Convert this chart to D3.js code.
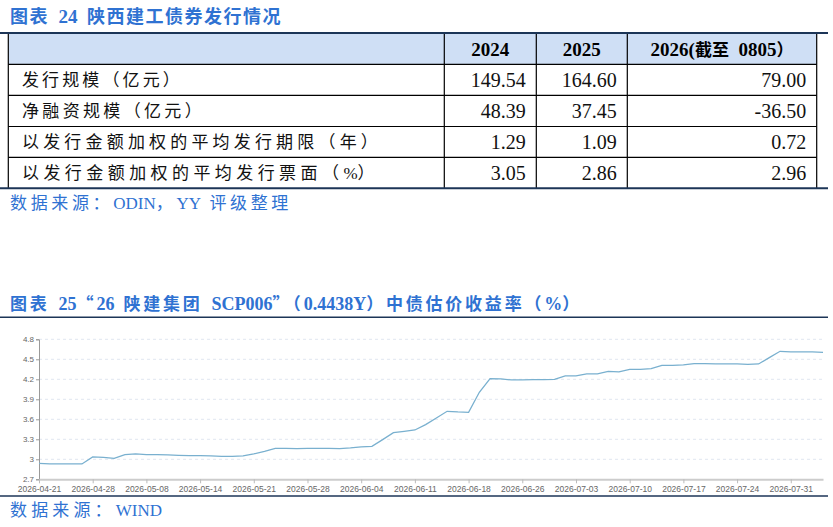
<!DOCTYPE html>
<html>
<head>
<meta charset="utf-8">
<script src="https://cdn.jsdelivr.net/npm/d3@7"></script>
<style>
  html, body { margin: 0; padding: 0; background: #fff; }
  svg { display: block; }
</style>
</head>
<body>
<script>
// table data
var colHeaders = ["2024", "2025", "2026(截至 0805）"];
var rowLabels = ["发行规模（亿元）", "净融资规模（亿元）", "以发行金额加权的平均发行期限（年）", "以发行金额加权的平均发行票面（%）"];
var values2024 = ["149.54", "48.39", "1.29", "3.05"];
var values2025 = ["164.60", "37.45", "1.09", "2.86"];
var values2026 = ["79.00", "-36.50", "0.72", "2.96"];

// yield chart data
var dates = ["2026-04-21","2026-04-22","2026-04-23","2026-04-24","2026-04-27","2026-04-28","2026-04-29","2026-04-30",
  "2026-05-06","2026-05-07","2026-05-08","2026-05-09","2026-05-11","2026-05-12","2026-05-13","2026-05-14","2026-05-15",
  "2026-05-18","2026-05-19","2026-05-20","2026-05-21","2026-05-22","2026-05-25","2026-05-26","2026-05-27","2026-05-28",
  "2026-05-29","2026-06-01","2026-06-02","2026-06-03","2026-06-04","2026-06-05","2026-06-08","2026-06-09","2026-06-10",
  "2026-06-11","2026-06-12","2026-06-15","2026-06-16","2026-06-17","2026-06-18","2026-06-22","2026-06-23","2026-06-24",
  "2026-06-25","2026-06-26","2026-06-29","2026-06-30","2026-07-01","2026-07-02","2026-07-03","2026-07-06","2026-07-07",
  "2026-07-08","2026-07-09","2026-07-10","2026-07-13","2026-07-14","2026-07-15","2026-07-16","2026-07-17","2026-07-20",
  "2026-07-21","2026-07-22","2026-07-23","2026-07-24","2026-07-27","2026-07-28","2026-07-29","2026-07-30","2026-07-31",
  "2026-08-03","2026-08-04","2026-08-05"];
var yields = [2.94,2.93,2.93,2.93,2.93,3.035,3.03,3.015,
  3.07,3.08,3.07,3.07,3.065,3.06,3.055,3.055,3.05,
  3.045,3.045,3.05,3.08,3.12,3.165,3.165,3.16,3.165,
  3.165,3.165,3.16,3.17,3.185,3.195,3.295,3.40,3.42,
  3.44,3.52,3.62,3.72,3.71,3.705,4.005,4.21,4.205,
  4.19,4.19,4.195,4.195,4.20,4.25,4.25,4.28,4.28,
  4.32,4.31,4.35,4.35,4.36,4.41,4.41,4.415,4.435,
  4.435,4.43,4.43,4.43,4.425,4.43,4.525,4.62,4.61,
  4.61,4.61,4.605];
var yTicks = [2.7, 3, 3.3, 3.6, 3.9, 4.2, 4.5, 4.8];

var width = 833, height = 527;
var blue = "#2f72d2", navy = "#1c3557";
var cjkFont = "'Noto Sans CJK SC', sans-serif";
var latFont = "'Liberation Serif', serif";
var cjkRe = /[\u3000-\u9fff\uff00-\uffef“”]/;

var svg = d3.select("body").append("svg")
  .attr("width", width)
  .attr("height", height);

// split a string into CJK / latin runs so each gets its own font,
// then spread only the CJK glyphs so the line ends where it does in the picture
function mixedText(x, y, str, cjkSize, latSize, bold, color, target) {
  var t = svg.append("text").attr("x", x).attr("y", y).attr("fill", color)
    .style("font-weight", bold ? "bold" : "normal");
  var runs = str.match(/[\u3000-\u9fff\uff00-\uffef“”]+|[^\u3000-\u9fff\uff00-\uffef“”]+/g);
  var nCjk = 0;
  runs.forEach(function(r){
    var isCjk = cjkRe.test(r);
    if (isCjk) nCjk += r.length;
    t.append("tspan").text(r.replace(/ /g, "\u2002")).classed("cjk", isCjk)
      .style("font-family", isCjk ? cjkFont : latFont)
      .style("font-size", (isCjk ? cjkSize : latSize) + "px");
  });
  if (target && nCjk) {
    var w = t.node().getComputedTextLength();
    t.selectAll("tspan.cjk").attr("letter-spacing", Math.max(0, (target - w) / nCjk));
  }
  return t;
}

// ---------- table ----------
mixedText(10, 23, "图表 24 陕西建工债券发行情况", 18, 19, true, blue, 272);

var colX = [8.3, 444.3, 536.3, 627.3, 816.7];
var rowY = [33, 64.3, 95.3, 126.5, 157.3, 188.3];

svg.append("rect")
  .attr("x", colX[0]).attr("y", rowY[0])
  .attr("width", colX[4] - colX[0]).attr("height", rowY[1] - rowY[0])
  .attr("fill", "#cfdff5");

var grid = svg.append("g").attr("stroke", "#000").attr("stroke-width", 1.2);
grid.selectAll("line.h").data(rowY.slice(1, 5)).enter().append("line")
  .attr("x1", colX[0]).attr("x2", colX[4])
  .attr("y1", function(d){ return d; }).attr("y2", function(d){ return d; });
grid.selectAll("line.v").data(colX).enter().append("line")
  .attr("x1", function(d){ return d; }).attr("x2", function(d){ return d; })
  .attr("y1", rowY[0]).attr("y2", rowY[5]);

svg.selectAll("line.border").data([rowY[0], rowY[5]]).enter().append("line")
  .attr("x1", 0).attr("x2", 828)
  .attr("y1", function(d){ return d; }).attr("y2", function(d){ return d; })
  .attr("stroke", navy).attr("stroke-width", 2);

colHeaders.forEach(function(h, i){
  mixedText((colX[i + 1] + colX[i + 2]) / 2, 56, h, 17, 19, true, "#000")
    .attr("text-anchor", "middle");
});

var labelLen = [161, 183, 360, 357];
rowLabels.forEach(function(lab, i){
  mixedText(22, (rowY[i + 1] + rowY[i + 2]) / 2 + 6.5, lab, 17, 17, false, "#111", labelLen[i]);
});

[values2024, values2025, values2026].forEach(function(col, c){
  svg.selectAll("text.v" + c).data(col).enter().append("text")
    .attr("x", colX[c + 2] - 10.5)
    .attr("y", function(d, i){ return (rowY[i + 1] + rowY[i + 2]) / 2 + 7; })
    .attr("text-anchor", "end")
    .style("font-family", latFont).style("font-size", "20px")
    .attr("fill", "#111")
    .text(function(d){ return d; });
});

mixedText(10, 209, "数据来源：ODIN，YY 评级整理", 17, 17, false, blue, 282);

// ---------- line chart ----------
mixedText(10, 310, "图表 25“26 陕建集团 SCP006”（0.4438Y）中债估价收益率（%）", 17, 18, true, blue, 572);

svg.selectAll("line.frame").data([317.3, 496]).enter().append("line")
  .attr("x1", 0).attr("x2", 828)
  .attr("y1", function(d){ return d; }).attr("y2", function(d){ return d; })
  .attr("stroke", navy).attr("stroke-width", 1.6);

var x = d3.scalePoint().domain(dates).range([39, 823]);
var y = d3.scaleLinear().domain([2.7, 4.8]).range([479.3, 339.3]);

svg.append("g").selectAll("line").data(yTicks.slice(1)).enter().append("line")
  .attr("x1", 39).attr("x2", 823)
  .attr("y1", function(d){ return y(d); }).attr("y2", function(d){ return y(d); })
  .attr("stroke", "#e0e6f1").attr("stroke-dasharray", "3,3");

var yAxis = svg.append("g")
  .attr("transform", "translate(39,0)")
  .call(d3.axisLeft(y).tickValues(yTicks).tickSize(3).tickPadding(2)
    .tickFormat(function(d){ return d === 3 ? "3" : d3.format(".1f")(d); }));
yAxis.select(".domain").attr("stroke", "#999");
yAxis.selectAll(".tick line").attr("stroke", "#999");
yAxis.selectAll("text").attr("fill", "#666")
  .style("font-family", "'Liberation Sans', Arial, sans-serif").style("font-size", "8px");

var xAxis = svg.append("g")
  .attr("transform", "translate(0,479.3)")
  .call(d3.axisBottom(x)
    .tickValues(dates.filter(function(d, i){ return i % 5 === 0; }))
    .tickSize(4).tickSizeOuter(0).tickPadding(3));
xAxis.select(".domain").attr("stroke", "#ccc").attr("stroke-width", 2);
xAxis.selectAll(".tick line").attr("stroke", "#bbb");
xAxis.selectAll("text").attr("fill", "#666")
  .style("font-family", "'Liberation Sans', Arial, sans-serif").style("font-size", "8.5px");

var line = d3.line()
  .x(function(d, i){ return x(dates[i]); })
  .y(function(d){ return y(d); });

svg.append("path")
  .datum(yields)
  .attr("d", line)
  .attr("fill", "none")
  .attr("stroke", "#79b0cf")
  .attr("stroke-width", 1.3);

mixedText(10, 516, "数据来源：WIND", 17, 17, false, blue, 152);
</script>
</body>
</html>
